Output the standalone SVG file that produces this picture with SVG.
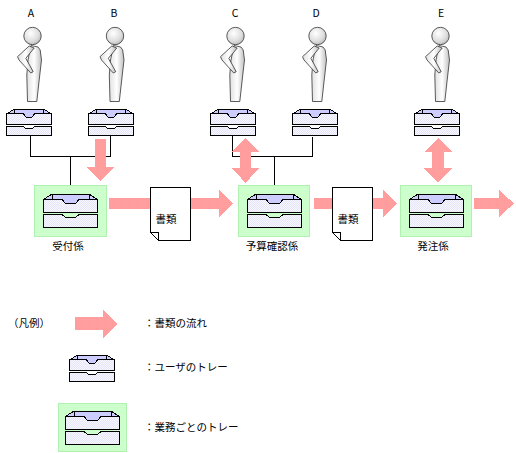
<svg xmlns="http://www.w3.org/2000/svg" xmlns:xlink="http://www.w3.org/1999/xlink" width="516" height="453" viewBox="0 0 516 453">
<style>
text{font-family:"Noto Sans CJK JP","Liberation Sans",sans-serif;font-size:10.5px;fill:#000}
.m{text-anchor:middle}
.w{stroke:#000;stroke-width:1;fill:none;shape-rendering:crispEdges}
.p{fill:url(#pink);stroke:none;shape-rendering:crispEdges}
.g{fill:#ccffcc;stroke:#b0f0b0;stroke-width:1;shape-rendering:crispEdges}
.o{stroke:#333;stroke-width:.8;stroke-linejoin:round}
.doc{fill:#fff;stroke:#000;stroke-width:1;shape-rendering:crispEdges}
.t{stroke:#000;stroke-width:1;shape-rendering:crispEdges}
</style>
<defs>
<pattern id="pink" width="2" height="2" patternUnits="userSpaceOnUse"><rect width="2" height="2" fill="#ff9f9f"/><rect width="1" height="1" fill="#ff9a9a"/></pattern>
<pattern id="dot" width="2" height="2" patternUnits="userSpaceOnUse"><rect width="2" height="2" fill="#f6f6fe"/><rect width="1" height="1" fill="#e6e6f8"/><rect x="1" y="1" width="1" height="1" fill="#e6e6f8"/></pattern>
<linearGradient id="skin" x1="0" x2="1" y1="0" y2="0"><stop offset="0" stop-color="#e0e0e0"/><stop offset=".5" stop-color="#fff"/><stop offset="1" stop-color="#c0c0c0"/></linearGradient>
<radialGradient id="hd" cx=".4" cy=".35" r=".75"><stop offset="0" stop-color="#fff"/><stop offset=".6" stop-color="#dedede"/><stop offset="1" stop-color="#b0b0b0"/></radialGradient>
<g id="person">
<path class="o" fill="url(#skin)" d="M31 45.500 38 47 40.200 50 41.500 60 39.200 80 36.800 101.500H27.500L26.800 75 28 60Z"/>
<path class="o" fill="url(#skin)" d="M29.200 46 17.500 56.700 19 60 30.800 73 33.200 71.700 25.800 58.300 34.200 48Z"/>
<circle class="o" cx="32.500" cy="36" r="8.700" fill="url(#hd)"/>
</g>
<g id="tray">
<path class="t" fill="#ccccff" d="M.5 6 8.500 1H37.500L45.500 6V10H.5Z"/>
<path class="t" fill="none" d="M8.500 1V6M37.500 1V6"/>
<path class="t" fill="url(#dot)" d="M.5 5.500H17L20 9H26L29 5.500H45.500V16.500H.5Z"/>
<path class="t" fill="url(#dot)" d="M.5 18.500H17L20 20.500H26L29 18.500H45.500V27.500H.5Z"/>
</g>
<g id="trayg">
<path class="t" fill="#ccccff" d="M.5 6.500 9 1H46L54.500 6.500V11H.5Z"/>
<path class="t" fill="none" d="M9 1V6.500M46 1V6.500"/>
<path class="t" fill="url(#dot)" d="M.5 6.500H19L22 10H33L36 6.500H54.500V19.500H.5Z"/>
<path class="t" fill="url(#dot)" d="M.5 21.500H19L22 24H33L36 21.500H54.500V34.500H.5Z"/>
</g>
</defs>

<g id="connectors">
<path class="w" d="M30.500 136V156.500H110.500V136M70.500 156.500V185"/>
<path class="w" d="M232.500 136V156.500H312.500V137M274.500 156.500V185"/>
</g>

<g id="user-a"><text class="m" x="31" y="17">A</text><use xlink:href="#person"/><use xlink:href="#tray" x="6" y="108"/></g>
<g id="user-b"><text class="m" x="114" y="17">B</text><use xlink:href="#person" x="82.500"/><use xlink:href="#tray" x="88" y="108"/></g>
<g id="user-c"><text class="m" x="235" y="17">C</text><use xlink:href="#person" x="203"/><use xlink:href="#tray" x="210" y="108"/></g>
<g id="user-d"><text class="m" x="316" y="17">D</text><use xlink:href="#person" x="285"/><use xlink:href="#tray" x="292" y="108"/></g>
<g id="user-e"><text class="m" x="441" y="17">E</text><use xlink:href="#person" x="408"/><use xlink:href="#tray" x="414" y="108"/></g>

<g id="flow-arrows">
<path class="p" d="M95 139H106V167H114L100.500 181 87 167H95Z"/>
<path class="p" d="M109 198H219V190L233 203.500 219 217V209H109Z"/>
<path class="p" d="M314 198H383V190L397 203.500 383 217V209H314Z"/>
<path class="p" d="M474 198H499V190L514 203.500 499 217V209H474Z"/>
<path class="p" d="M245.500 138 259 152H251V168H259L245.500 183 232 168H240V152H232Z"/>
<path class="p" d="M438 138 452 152H444V168H452L438 183 424 168H432V152H424Z"/>
</g>

<g id="desk-uketsuke"><rect class="g" x="34.500" y="185.500" width="72" height="50.500"/><use xlink:href="#trayg" x="43" y="193"/><text class="m" x="68" y="250">受付係</text></g>
<g id="desk-yosan"><rect class="g" x="238.500" y="185.500" width="71" height="50.500"/><use xlink:href="#trayg" x="247" y="193"/><text class="m" x="272" y="250">予算確認係</text></g>
<g id="desk-hatchu"><rect class="g" x="400.500" y="185.500" width="71" height="50.500"/><use xlink:href="#trayg" x="409" y="193"/><text class="m" x="433" y="250">発注係</text></g>

<g id="doc-1"><path class="doc" d="M150.500 187.500H190.500V240.500H158.500L150.500 232.500Z"/><path class="doc" d="M150.500 232.500H158.500V240.500Z"/><text class="m" x="166" y="223">書類</text></g>
<g id="doc-2"><path class="doc" d="M332.500 187.500H372.500V240.500H340.500L332.500 232.500Z"/><path class="doc" d="M332.500 232.500H340.500V240.500Z"/><text class="m" x="348" y="223">書類</text></g>

<g id="legend">
<text x="8" y="327">（凡例）</text>
<path class="p" d="M75 317H103V310L117 324 103 338V330H75Z"/>
<text x="144" y="327">：書類の流れ</text>
<use xlink:href="#tray" x="69" y="354"/>
<text x="144" y="371">：ユーザのトレー</text>
<rect class="g" x="58.500" y="403.500" width="68" height="47.500"/>
<use xlink:href="#trayg" x="65" y="410"/>
<text x="144" y="431">：業務ごとのトレー</text>
</g>
</svg>
